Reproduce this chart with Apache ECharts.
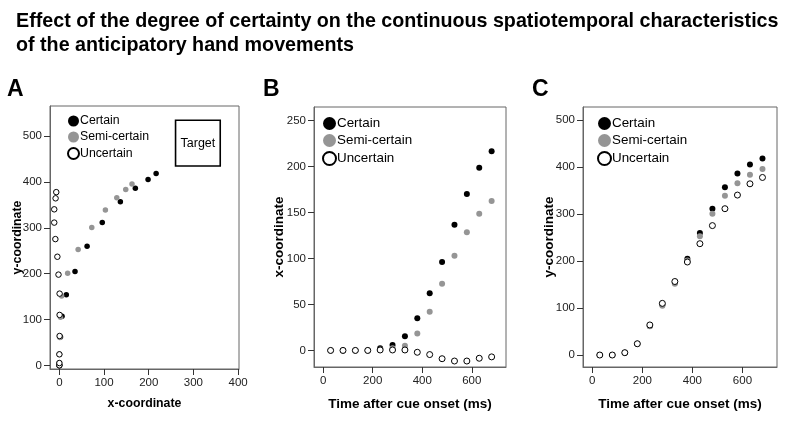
<!DOCTYPE html>
<html>
<head>
<meta charset="utf-8">
<script src="https://cdn.jsdelivr.net/npm/echarts@6/dist/echarts.min.js"></script>
<style>
html,body{margin:0;padding:0;background:#fff;}
#chart{width:798px;height:422px;}
</style>
</head>
<body>
<div id="chart"></div>
<script>
// ---- data ----
var times = [30, 80, 130, 180, 230, 280, 330, 380, 430, 480, 530, 580, 630, 680];
var xCertain = [0, 0, 0, 0, 2.5, 6, 15.5, 35, 62, 96, 136.5, 170, 198.5, 216.5];
var xSemi = [0, 0, 0, 0, 1, 2.5, 5, 18.5, 42, 72.5, 103, 128.5, 148.5, 162.5];
var xUncertain = [0, 0, 0, 0, 0.5, 0.5, 0.5, -2, -4.5, -9, -11.5, -11.5, -8.5, -7];
var yCertain = [0, 0, 5, 24, 62, 107, 154, 205, 260, 311.5, 357, 386.5, 405.5, 418.5];
var ySemi = [0, 0, 5, 24, 61, 105, 151.5, 201, 253, 301, 339, 365.5, 384, 396];
var yUncertain = [0, 0, 5, 24, 64, 110, 156.5, 198, 237, 275.5, 311.5, 340.5, 364.5, 378];
var targetBox = [[260, 435], [360, 535]];
var seriesNames = ['Certain', 'Semi-certain', 'Uncertain'];
var ticksA_x = [0, 100, 200, 300, 400];
var ticksA_y = [0, 100, 200, 300, 400, 500];
var ticksB_y = [0, 50, 100, 150, 200, 250];
var ticksTime = [0, 200, 400, 600];
var ticksC_y = [0, 100, 200, 300, 400, 500];

var FONT = "'Liberation Sans', Arial, Helvetica, sans-serif";

function zip(a, b) { return a.map(function (v, i) { return [v, b[i]]; }); }

var styles = [
  { color: '#000000', borderColor: '#000000', borderWidth: 0 },
  { color: '#959595', borderColor: '#959595', borderWidth: 0 },
  { color: '#ffffff', borderColor: '#000000', borderWidth: 1 }
];

function makeAxis(o) {
  return {
    type: 'value', gridIndex: o.grid, min: o.min, max: o.max,
    name: o.name, nameLocation: 'middle', nameGap: o.nameGap,
    nameRotate: o.rotate || 0, nameMoveOverlap: false,
    nameTextStyle: { fontFamily: FONT, fontSize: o.nfs, fontWeight: 'bold', color: '#000' },
    axisLine: { show: true, onZero: false, lineStyle: { color: '#666', width: 1 } },
    splitLine: { show: false },
    axisTick: { show: true, length: 6, customValues: o.ticks, lineStyle: { color: '#333', width: 1 } },
    axisLabel: { customValues: o.ticks, margin: 8, fontFamily: FONT, fontSize: 11.5, color: '#222' }
  };
}

var grids = [
  { left: 50, top: 106, width: 189, height: 263 },
  { left: 314, top: 107, width: 192, height: 260 },
  { left: 583, top: 107, width: 194, height: 260 }
];
grids.forEach(function (g) { g.show = true; g.borderColor = '#666'; g.borderWidth = 1; g.backgroundColor = 'transparent'; });

var xAxes = [
  makeAxis({ grid: 0, min: -21, max: 402, name: 'x-coordinate', nameGap: 29, nfs: 12.3, ticks: ticksA_x }),
  makeAxis({ grid: 1, min: -37, max: 738, name: 'Time after cue onset (ms)', nameGap: 30, nfs: 13.5, ticks: ticksTime }),
  makeAxis({ grid: 2, min: -37, max: 738, name: 'Time after cue onset (ms)', nameGap: 30, nfs: 13.5, ticks: ticksTime })
];
var yAxes = [
  makeAxis({ grid: 0, min: -8, max: 566, name: 'y-coordinate', nameGap: 26, rotate: 90, nfs: 12.3, ticks: ticksA_y }),
  makeAxis({ grid: 1, min: -18, max: 264.5, name: 'x-coordinate', nameGap: 28, rotate: 90, nfs: 13.5, ticks: ticksB_y }),
  makeAxis({ grid: 2, min: -25.5, max: 528, name: 'y-coordinate', nameGap: 27, rotate: 90, nfs: 13.5, ticks: ticksC_y })
];

var panelData = [
  [zip(xCertain, yCertain), zip(xSemi, ySemi), zip(xUncertain, yUncertain)],
  [zip(times, xCertain), zip(times, xSemi), zip(times, xUncertain)],
  [zip(times, yCertain), zip(times, ySemi), zip(times, yUncertain)]
];
var symSizes = [5.5, 6, 6];

var series = [];
panelData.forEach(function (sets, p) {
  sets.forEach(function (d, s) {
    series.push({
      type: 'scatter', name: seriesNames[s], xAxisIndex: p, yAxisIndex: p,
      data: d, symbol: 'circle', symbolSize: symSizes[p],
      itemStyle: Object.assign({ opacity: 1 }, styles[s]),
      emphasis: { disabled: true }, silent: true, z: 2 + s
    });
  });
});
series.push({
  type: 'scatter', name: 'Target', xAxisIndex: 0, yAxisIndex: 0, data: [],
  markArea: {
    silent: true,
    itemStyle: { color: 'rgba(0,0,0,0)', borderColor: '#000', borderWidth: 1.6 },
    label: { show: true, position: 'inside', formatter: 'Target', fontFamily: FONT, fontSize: 12.5, color: '#000' },
    data: [[{ coord: targetBox[0] }, { coord: targetBox[1] }]]
  }
});

function legendAt(left, top, fs, isz, gap) {
  return {
    data: seriesNames, orient: 'vertical', left: left, top: top,
    icon: 'circle', itemWidth: isz, itemHeight: isz, itemGap: gap,
    selectedMode: false, padding: 0,
    textStyle: { fontFamily: FONT, fontSize: fs, color: '#000', padding: [0, 0, 0, -4] }
  };
}

var option = {
  animation: false,
  backgroundColor: '#fff',
  title: {
    text: 'Effect of the degree of certainty on the continuous spatiotemporal characteristics\nof the anticipatory hand movements',
    left: 16, top: 10, padding: 0,
    textStyle: { fontFamily: FONT, fontSize: 19.7, fontWeight: 'bold', color: '#000', lineHeight: 24 }
  },
  graphic: [
    { type: 'text', left: 7, top: 78, style: { text: 'A', font: 'bold 23px ' + FONT, fill: '#000' } },
    { type: 'text', left: 263, top: 78, style: { text: 'B', font: 'bold 23px ' + FONT, fill: '#000' } },
    { type: 'text', left: 532, top: 78, style: { text: 'C', font: 'bold 23px ' + FONT, fill: '#000' } }
  ],
  legend: [
    legendAt(67, 115, 12.3, 11, 4),
    legendAt(322, 117, 13.4, 13, 4),
    legendAt(597, 117, 13.4, 13, 4)
  ],
  grid: grids,
  xAxis: xAxes,
  yAxis: yAxes,
  series: series
};

var chart = echarts.init(document.getElementById('chart'), null, { renderer: 'canvas' });
chart.setOption(option);
</script>
</body>
</html>
